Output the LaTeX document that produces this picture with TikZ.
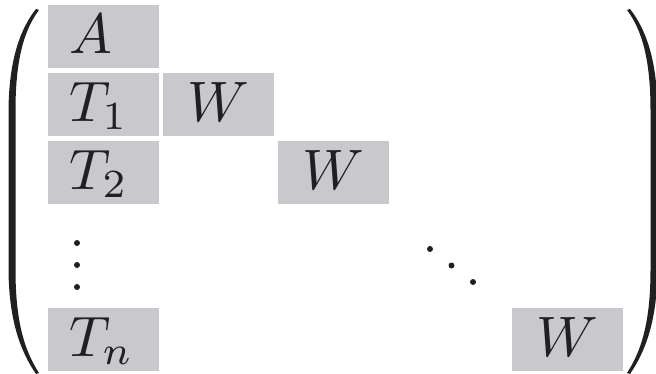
\documentclass[tikz,border=0pt]{standalone}
\usepackage{graphicx}
\definecolor{cellgrey}{RGB}{200,200,205}
\definecolor{ink}{RGB}{35,31,32}
% math set at 10pt and enlarged, so subscripts keep their design sizes
\newcommand{\bigmath}[1]{\scalebox{5.7}{$#1$}}
\tikzset{
  paren/.pic={
    \fill[ink] (36,9) .. controls (21,28) and (9,58) .. (8.5,110)
      -- (8.5,270) .. controls (9,322) and (21,352) .. (36,374)
      -- (39,373) .. controls (24,350) and (15.5,320) .. (15.5,270)
      -- (15.5,110) .. controls (15.5,60) and (24,30) .. (39,10) -- cycle;
  }
}
\begin{document}
\begin{tikzpicture}[x=1pt,y=-1pt,
  cell/.style={fill=cellgrey, draw=none, inner sep=0pt,
    minimum width=111pt, minimum height=63pt,
    text height=33pt, text depth=0pt, anchor=north west, text=ink},
  firstcol/.style={cell, inner xsep=21pt, text width=69pt, align=left},
  dotmark/.style={fill=ink, draw=none}]
\useasboundingbox (0,0) rectangle (656,374);

% delimiters
\pic at (0,0) {paren};
\pic[xscale=-1] at (666,0) {paren};

% first column
\node[firstcol] (a)  at (48,5)   {\bigmath{A}};
\node[firstcol] (t1) at (48,73)  {\bigmath{T_1}};
\node[firstcol] (t2) at (48,141) {\bigmath{T_2}};
\node[firstcol] (tn) at (48,308) {\bigmath{T_n}};

% diagonal blocks
\node[cell] (w1) at (163,73)  {\bigmath{W}};
\node[cell] (w2) at (278,141) {\bigmath{W}};
\node[cell] (wn) at (512,308) {\bigmath{W}};

% vertical dots
\foreach \yy in {243,265,287}
  \fill[dotmark] (77,\yy) circle[radius=3];
% diagonal dots
\foreach \xx/\yy in {430/249, 451.5/265.5, 473/282}
  \fill[dotmark] (\xx,\yy) circle[radius=3];
\end{tikzpicture}
\end{document}
